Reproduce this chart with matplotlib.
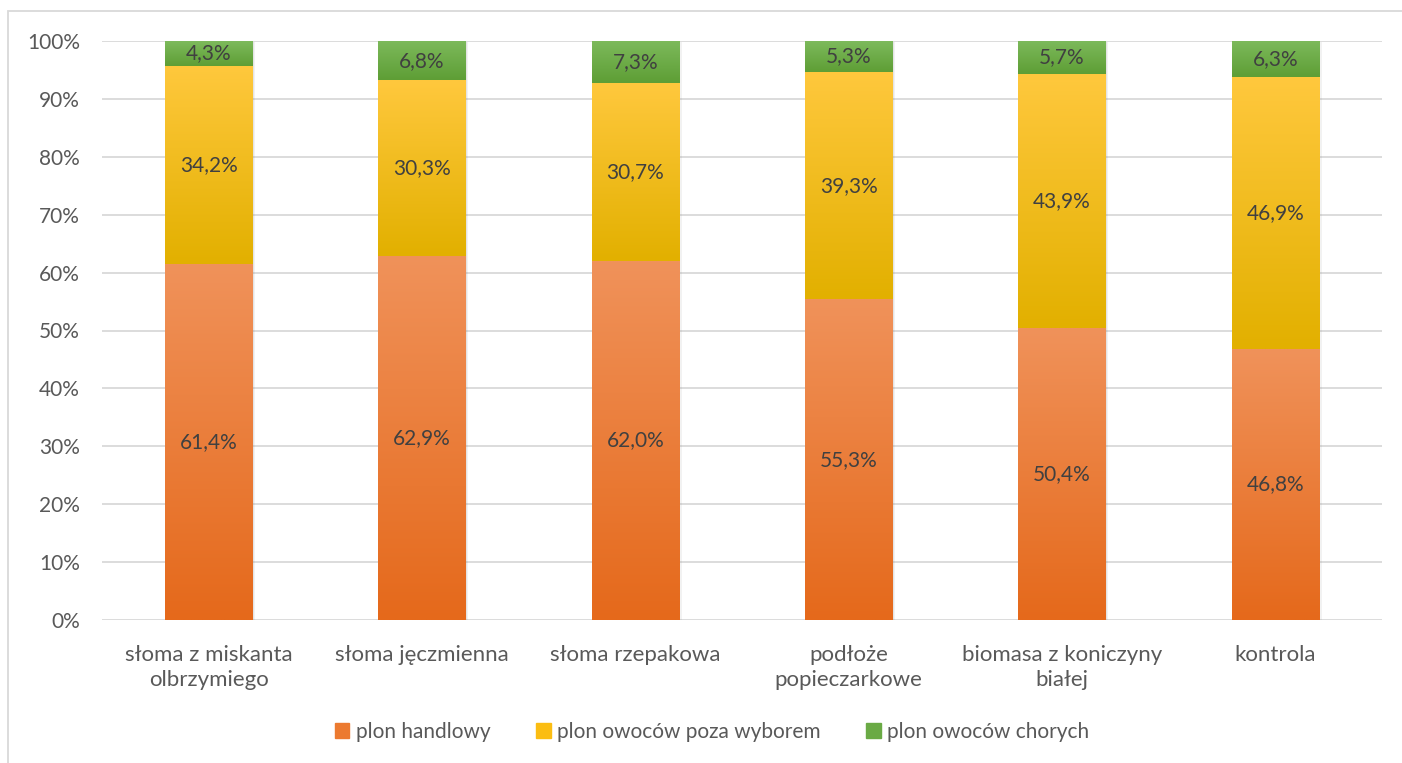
import numpy as np
import matplotlib
matplotlib.use("Agg")
import matplotlib.pyplot as plt
from matplotlib.colors import LinearSegmentedColormap
from matplotlib.patches import Rectangle

categories = ["słoma z miskanta\nolbrzymiego", "słoma jęczmienna", "słoma rzepakowa",
              "podłoże\npopieczarkowe", "biomasa z koniczyny\nbiałej", "kontrola"]
handlowy = [61.4, 62.9, 62.0, 55.3, 50.4, 46.8]
poza_wyborem = [34.2, 30.3, 30.7, 39.3, 43.9, 46.9]
chore = [4.3, 6.8, 7.3, 5.3, 5.7, 6.3]
series_names = ["plon handlowy", "plon owoców poza wyborem", "plon owoców chorych"]
y_ticks = [0, 10, 20, 30, 40, 50, 60, 70, 80, 90, 100]

# (bottom colour, top colour) for the vertical gradient of each series
GRADIENTS = [("#E5691B", "#F0925A"), ("#E2B000", "#FFC83D"), ("#5E9E35", "#7DBA5C")]
SWATCH = ["#EC7A30", "#FBBD12", "#6AAA45"]

plt.rcParams["font.family"] = ["Lato", "DejaVu Sans"]

fig = plt.figure(figsize=(14.02, 7.63), dpi=100, facecolor="white")
ax = fig.add_axes([102 / 1402, 143 / 763, 1280 / 1402, 579 / 763])

# chart frame (right and bottom edges run off the canvas)
fig.add_artist(Rectangle((8 / 1402, -0.05), 1.2, (752 / 763) + 0.05, transform=fig.transFigure,
                         fill=False, edgecolor="#D9D9D9", linewidth=1.3))

data = np.array([handlowy, poza_wyborem, chore], dtype=float)
shares = data / data.sum(axis=0)
x = np.arange(len(categories))
width = 0.41

bottoms = np.zeros(len(categories))
for i, (vals, raw) in enumerate(zip(shares, data)):
    cmap = LinearSegmentedColormap.from_list(f"g{i}", GRADIENTS[i])
    bars = ax.bar(x, vals, width, bottom=bottoms, color="none", edgecolor="none", zorder=3)
    for bar, v in zip(bars, raw):
        x0, y0 = bar.get_x(), bar.get_y()
        w, h = bar.get_width(), bar.get_height()
        grad = np.linspace(0, 1, 200).reshape(-1, 1)
        ax.imshow(grad, cmap=cmap, origin="lower", aspect="auto",
                  extent=(x0, x0 + w, y0, y0 + h), zorder=3, interpolation="bilinear")
        ax.text(x0 + w / 2, y0 + h / 2, f"{v:.1f}%".replace(".", ","),
                ha="center", va="center", fontsize=15, color="#404040", zorder=5)
    bottoms += vals

# soft shadow around the stacks
for off, a in [(0.012, 0.10), (0.006, 0.12)]:
    ax.bar(x + off, bottoms, width, bottom=-0.002, color="#808080", alpha=a,
           edgecolor="none", zorder=2)

ax.set_xlim(-0.5, len(categories) - 0.5)
ax.set_ylim(0, 1)
ax.set_yticks(np.array(y_ticks) / 100)
ax.set_yticklabels([f"{t}%" for t in y_ticks], fontsize=15, color="#595959")
ax.set_xticks(x)
ax.set_xticklabels(categories, fontsize=16, color="#595959", linespacing=1.3)
ax.tick_params(length=0)
ax.tick_params(axis="y", pad=16)
ax.tick_params(axis="x", pad=18)
ax.grid(axis="y", color="#D9D9D9", linewidth=1.3, zorder=0)
ax.set_axisbelow(True)
for s in ax.spines.values():
    s.set_visible(False)

handles = [Rectangle((0, 0), 1, 1, color=c) for c in SWATCH]
fig.legend(handles, series_names, loc="center", bbox_to_anchor=(712 / 1402, 1 - 732 / 763),
           ncol=3, frameon=False, fontsize=15, labelcolor="#595959",
           handlelength=0.7, handleheight=0.7, handletextpad=0.3, columnspacing=2.2)

fig.savefig("out.png", dpi=100, facecolor="white")
